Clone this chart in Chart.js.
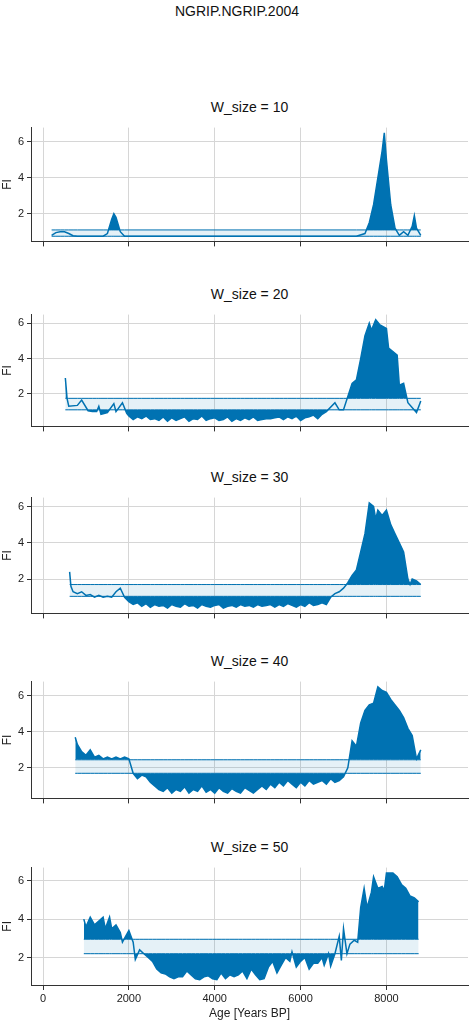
<!DOCTYPE html>
<html>
<head>
<meta charset="utf-8">
<script src="https://cdn.jsdelivr.net/npm/chart.js@4.4.1/dist/chart.umd.min.js"></script>
<style>
  body { margin: 0; background: #fff; font-family: "Liberation Sans", Arial, sans-serif; }
  #wrap { position: relative; width: 474px; height: 1022px; }
  .ttl { position: absolute; left: 31px; width: 437px; text-align: center; font-size: 14px; color: #111; }
  canvas { position: absolute; left: 0; }
</style>
</head>
<body>
<div id="wrap">
  <div class="ttl" style="left:0;width:474px;top:3px;">NGRIP.NGRIP.2004</div>
</div>
<script>
// W_size = 10
const ages10 = [200,300,400,500,600,700,800,1400,1500,1600,1650,1700,1800,1900,2000,7300,7500,7600,7700,7800,7900,7950,8000,8100,8200,8300,8400,8500,8600,8650,8700,8800];
const fi10 = [0.8,0.95,1.0,1.0,0.9,0.78,0.75,0.75,0.9,1.7,2.0,1.8,1.0,0.75,0.75,0.75,0.9,1.5,2.5,4.0,5.5,6.5,5.0,2.5,1.2,0.8,1.0,0.8,1.3,1.9,1.2,0.8];
const band10 = [0.75, 1.1];

// W_size = 20
const ages20 = [520,560,600,800,900,1050,1150,1250,1300,1350,1500,1650,1700,1850,1950,
  2000,2100,2200,2300,2400,2500,2600,2700,2800,2900,3000,3100,3200,3300,3400,3500,3600,3700,3800,3900,4000,
  4100,4200,4300,4400,4500,4600,4700,4800,4900,5000,5100,5200,5300,5400,5500,5600,5700,5800,5900,6000,6100,6200,6300,6400,6500,
  6600,6800,6900,7000,7200,7300,7400,7500,7600,7650,7750,7850,8000,8050,8150,8250,8300,8400,8500,8700,8800];
const fi20 = [2.9,1.75,1.3,1.35,1.65,1.05,1.0,1.0,1.3,0.85,0.95,1.45,1.0,1.5,0.9,
  0.75,0.55,0.7,0.6,0.75,0.55,0.6,0.5,0.7,0.45,0.65,0.5,0.6,0.7,0.45,0.6,0.55,0.75,0.5,0.6,0.65,
  0.5,0.55,0.7,0.45,0.6,0.5,0.65,0.55,0.7,0.5,0.55,0.6,0.6,0.65,0.7,0.55,0.7,0.6,0.75,0.5,0.65,0.7,0.8,0.6,0.85,
  1.0,1.5,1.1,1.1,2.6,2.8,4.0,5.3,6.0,5.6,6.2,5.9,5.7,4.6,4.4,4.2,2.5,2.6,1.5,0.95,1.6];
const band20 = [1.1, 1.75];

// W_size = 30
const ages30 = [620,650,700,800,900,1000,1100,1200,1300,1400,1500,1600,1700,1800,1900,2000,
  2100,2200,2300,2400,2500,2600,2700,2800,2900,3000,3100,3200,3300,3400,3500,3600,3700,3800,3900,4000,
  4100,4200,4300,4400,4500,4600,4700,4800,4900,5000,5100,5200,5300,5400,5500,5600,5700,5800,5900,6000,6100,6200,6300,6400,
  6500,6600,6700,6800,6900,7000,7100,7200,7300,7400,7500,7600,7700,7750,7800,7900,8000,8100,8200,8300,8400,8500,8550,8600,8700,8800];
const fi30 = [2.4,1.6,1.3,1.2,1.3,1.1,1.15,1.0,1.1,1.0,1.05,1.0,1.3,1.5,1.0,0.75,
  0.6,0.7,0.5,0.65,0.45,0.6,0.5,0.55,0.4,0.6,0.5,0.45,0.65,0.5,0.55,0.4,0.6,0.5,0.45,0.55,
  0.6,0.4,0.5,0.55,0.45,0.6,0.5,0.55,0.45,0.6,0.5,0.55,0.6,0.45,0.6,0.5,0.65,0.55,0.45,0.6,0.5,0.7,0.55,0.6,
  0.7,0.6,1.0,1.2,1.3,1.5,1.8,2.2,2.5,3.5,4.5,6.2,6.0,5.3,5.8,5.5,5.8,5.0,4.5,4.0,3.5,2.0,1.7,2.0,1.9,1.7];
const band30 = [1.05, 1.7];

// W_size = 40
const ages40 = [750,800,900,1000,1100,1200,1300,1400,1500,1600,1700,1800,1900,2000,2100,2200,2300,2400,2500,2600,2700,2800,
  2900,3000,3100,3200,3300,3400,3500,3600,3700,3800,3900,4000,4100,4200,4300,4400,4500,4600,4700,4800,4900,5000,
  5100,5200,5300,5400,5500,5600,5700,5800,5900,6000,6100,6200,6300,6400,6500,6600,6700,6800,6900,7000,
  7100,7200,7300,7400,7500,7600,7700,7800,7900,8000,8100,8200,8300,8400,8500,8600,8700,8800];
const fi40 = [3.7,3.3,2.9,2.7,3.0,2.6,2.7,2.5,2.6,2.5,2.6,2.5,2.6,2.5,1.7,1.4,1.6,1.5,1.2,1.0,0.8,0.7,
  0.9,0.6,0.8,0.7,0.95,0.6,0.8,0.7,1.0,0.65,0.8,0.6,0.9,0.7,0.6,0.85,0.7,0.6,0.9,0.75,0.6,0.8,
  1.0,0.8,1.1,0.9,1.2,1.0,1.3,1.1,0.9,1.2,1.0,1.3,1.1,1.2,1.3,1.1,1.4,1.2,1.3,1.5,
  2.0,3.5,3.2,4.5,5.2,5.5,5.6,6.5,6.3,6.2,5.8,5.5,5.2,4.8,4.2,3.8,2.5,3.0];
const band40 = [1.7, 2.45];

// W_size = 50
const ages50 = [950,1000,1100,1200,1300,1400,1450,1550,1600,1700,1800,1850,1950,2000,2100,2150,2250,2350,2450,2550,2650,2750,2850,2950,
  3050,3150,3250,3350,3450,3550,3650,3750,3850,3950,4050,4150,4250,4350,4450,4550,4650,4750,4850,4950,5050,5150,5250,5350,5450,5550,
  5650,5750,5800,5900,6000,6100,6200,6300,6400,6500,6550,6650,6700,6800,6900,6950,7000,7080,7150,7250,7330,7400,7480,7550,7650,7700,
  7800,7900,7950,8000,8150,8250,8350,8450,8550,8650,8750];
const fi50 = [4.0,3.6,4.1,3.7,3.9,4.1,3.5,4.1,3.5,3.7,3.3,2.8,3.2,3.4,2.8,1.9,2.4,2.2,2.0,1.8,1.4,1.2,1.15,1.0,
  0.9,1.0,1.0,1.3,1.1,0.9,0.85,1.0,1.05,0.9,0.85,1.2,0.9,1.1,1.0,1.1,1.3,0.9,1.4,1.1,0.85,0.9,1.5,1.8,1.2,1.6,
  2.0,1.8,2.3,1.5,1.8,2.0,1.4,1.7,1.7,2.0,1.6,2.2,1.55,2.2,3.1,1.85,3.5,2.2,2.7,2.9,2.8,4.6,5.6,4.6,5.4,6.2,
  5.6,5.7,5.5,6.4,6.4,6.2,5.8,5.6,5.2,5.1,4.9];
const band50 = [2.2, 2.95];

const xTicks = [0, 2000, 4000, 6000, 8000];
const yTicks = [2, 4, 6];

const panels = [
  { name: "W_size = 10", ages: ages10, fi: fi10, band: band10, top: 118, bottom: 243 },
  { name: "W_size = 20", ages: ages20, fi: fi20, band: band20, top: 305, bottom: 428 },
  { name: "W_size = 30", ages: ages30, fi: fi30, band: band30, top: 488, bottom: 615 },
  { name: "W_size = 40", ages: ages40, fi: fi40, band: band40, top: 672, bottom: 800 },
  { name: "W_size = 50", ages: ages50, fi: fi50, band: band50, top: 858, bottom: 985 },
];

const DARK = "rgb(0,114,178)";
const LIGHT = "rgba(0,114,178,0.1)";
const wrap = document.getElementById("wrap");

panels.forEach((p, i) => {
  const last = i === panels.length - 1;
  const xh = last ? 36 : 8;

  const t = document.createElement("div");
  t.className = "ttl";
  t.style.top = `${p.top - 19}px`;
  t.textContent = p.name;
  wrap.appendChild(t);

  const canvas = document.createElement("canvas");
  canvas.style.top = `${p.top}px`;
  canvas.style.width = "474px";
  canvas.style.height = `${p.bottom - p.top + xh}px`;
  canvas.width = 474;
  canvas.height = p.bottom - p.top + xh;
  wrap.appendChild(canvas);

  const pts = (vals) => p.ages.map((a, k) => ({ x: a, y: vals[k] }));
  const lower = pts(p.ages.map(() => p.band[0]));
  const upper = pts(p.ages.map(() => p.band[1]));
  const fi = pts(p.fi);

  // matplotlib-style 5% margins
  const lo = Math.min(...p.fi, p.band[0]);
  const hi = Math.max(...p.fi, p.band[1]);
  const pad = (hi - lo) * 0.05;

  new Chart(canvas.getContext("2d"), {
    type: "line",
    data: {
      datasets: [
        { data: lower, borderColor: DARK, borderWidth: 1, fill: false },
        { data: upper, borderColor: DARK, borderWidth: 1, backgroundColor: LIGHT, fill: 0 },
        { data: fi, borderColor: DARK, borderWidth: 1.5, fill: { target: 1, above: DARK, below: "rgba(0,0,0,0)" } },
        { data: fi, borderWidth: 0, borderColor: "rgba(0,0,0,0)", fill: { target: 0, above: "rgba(0,0,0,0)", below: DARK } },
      ],
    },
    options: {
      responsive: false,
      animation: false,
      layout: { padding: { left: 0, right: 6, top: 0, bottom: 0 } },
      elements: { point: { radius: 0 }, line: { tension: 0 } },
      plugins: { legend: { display: false }, tooltip: { enabled: false } },
      scales: {
        x: {
          type: "linear",
          min: -280,
          max: 9900,
          afterFit: (s) => { s.height = xh; },
          afterBuildTicks: (s) => { s.ticks = xTicks.map((v) => ({ value: v })); },
          grid: { color: "#d6d6d6", borderDash: [3, 3], tickColor: "#333", tickLength: 5, tickBorderDash: [] },
          border: { display: true, color: "#333" },
          ticks: { display: last, color: "#222", font: { size: 11 }, padding: 2, callback: (v) => String(v) },
          title: { display: last, text: "Age [Years BP]", color: "#222", font: { size: 12 }, padding: 0 },
        },
        y: {
          min: lo - pad,
          max: hi + pad,
          afterFit: (s) => { s.width = 31; },
          afterBuildTicks: (s) => { s.ticks = yTicks.map((v) => ({ value: v })); },
          grid: { color: "#d6d6d6", borderDash: [3, 3], tickColor: "#333", tickLength: 4, tickBorderDash: [] },
          border: { display: true, color: "#333" },
          ticks: { color: "#222", font: { size: 11 }, padding: 3, callback: (v) => String(v) },
          title: { display: true, text: "FI", color: "#222", font: { size: 12 }, padding: 0 },
        },
      },
    },
  });
});
</script>
</body>
</html>
